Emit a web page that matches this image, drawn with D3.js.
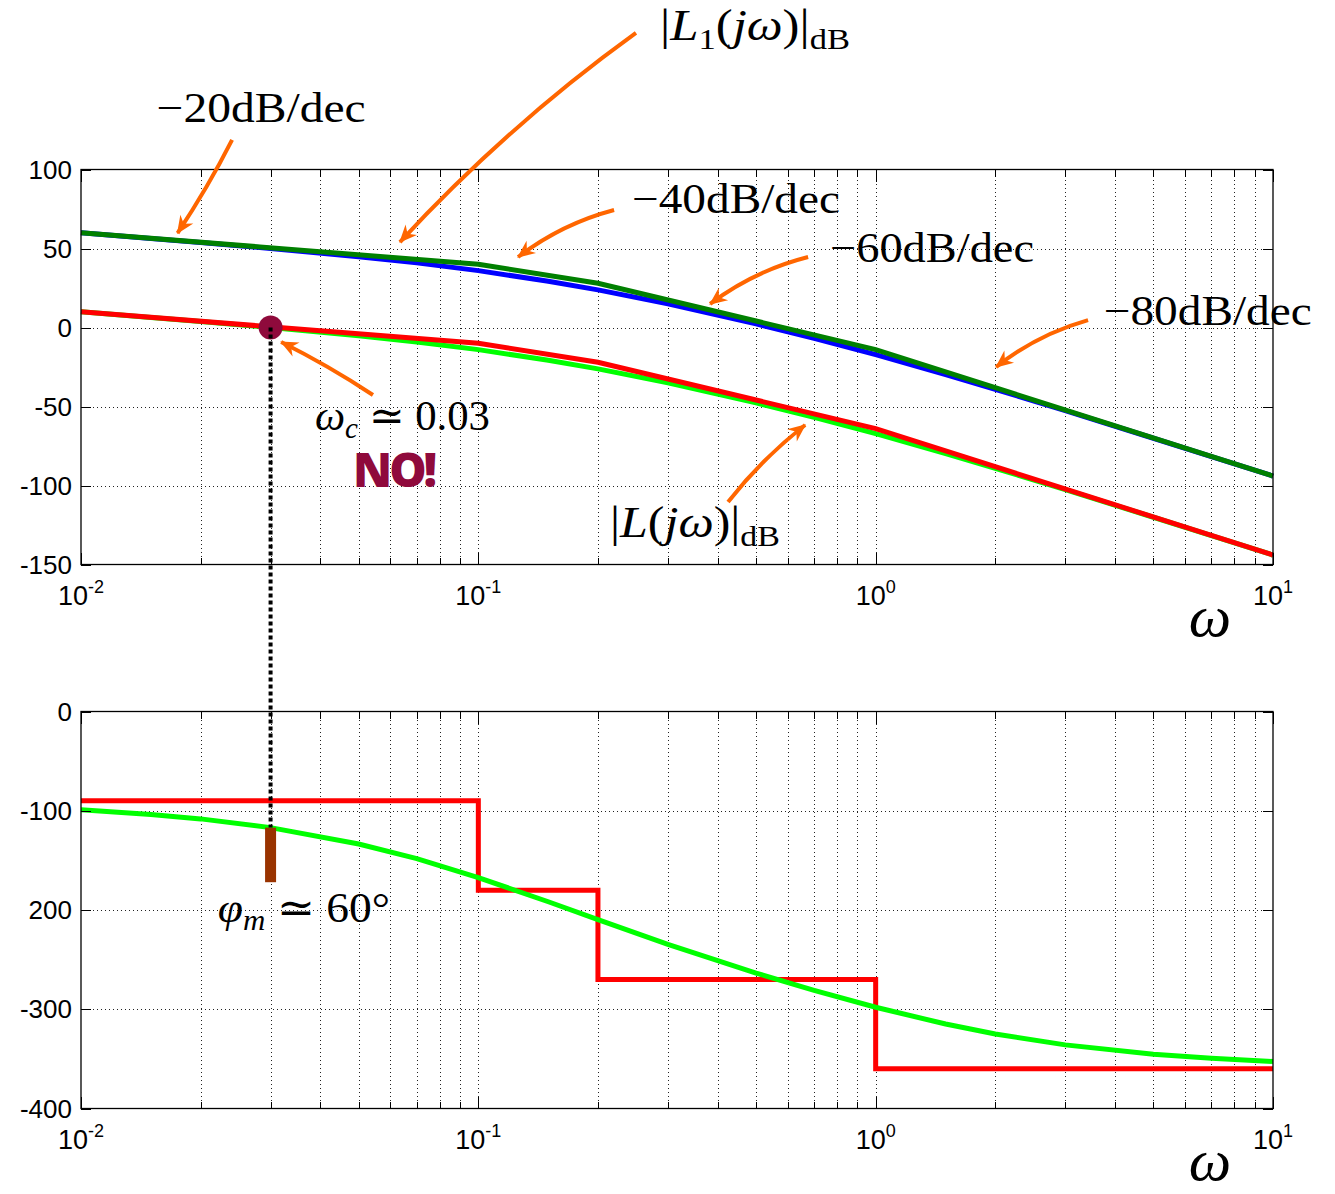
<!DOCTYPE html>
<html>
<head>
<meta charset="utf-8">
<script src="https://cdn.jsdelivr.net/npm/d3@7"></script>
<style>
    body { margin: 0; background: #fff; }
    svg { display: block; }
    .tick-label { font-family: "Liberation Sans", Arial, sans-serif; font-size: 26px; fill: #000; }
    .math { font-family: "Liberation Serif", "DejaVu Serif", serif; fill: #000; }
    .grid line { stroke: #222; stroke-width: 1; stroke-dasharray: 1,3; shape-rendering: crispEdges; }
    .grid path, .ticks path { display: none; }
    .ticks line { stroke: #000; stroke-width: 1; shape-rendering: crispEdges; }
</style>
</head>
<body>
<svg id="chart" width="1335" height="1194"></svg>
<script>

// frequencies (rad/s) the curves were read at
var omega = [0.01, 0.015, 0.02, 0.03, 0.05, 0.07, 0.1, 0.15, 0.2, 0.3, 0.5, 0.7, 1, 1.5, 2, 3, 5, 7, 10];

// |L1(jw)| in dB (blue) and |L(jw)| in dB (light green)
var magL1 = [60.0, 56.4, 53.8, 50.0, 44.8, 40.9, 36.0, 29.3, 23.8, 15.0, 2.3, -6.8, -17.2, -29.8, -39.1, -52.6, -70.1, -81.7, -94.0];
var magL  = [10.0, 6.4, 3.8, 0.0, -5.2, -9.2, -14.0, -20.7, -26.2, -35.0, -47.7, -56.8, -67.2, -79.8, -89.1, -102.6, -120.1, -131.7, -144.0];

// straight-line asymptotes (dark green, red)
var asymOmega = [0.01, 0.1, 0.2, 1, 10];
var asymL1 = [60, 40, 28, -14, -94];
var asymL  = [10, -10, -22, -64, -144];

// phase of L (light green) and its step approximation (red)
var phaseL = [-99.1, -103.7, -108.2, -117.0, -133.5, -148.3, -167.3, -191.7, -209.7, -234.6, -263.5, -280.9, -298.0, -314.9, -324.9, -335.9, -345.3, -349.4, -352.6];
var stepOmega = [0.01, 0.1, 0.2, 1, 10];
var stepPhase = [-90, -180, -270, -360, -360];

var magTicks = [100, 50, 0, -50, -100, -150];
var phaseTicks = [0, -100, -200, -300, -400];
var phaseTickLabels = ["0", "-100", "200", "-300", "-400"];
var decades = [0.01, 0.1, 1, 10];
var decadeExp = ["-2", "-1", "0", "1"];

// crossover point and phase margin bar
var wc = 0.03, wcMag = 0, wcPhase = -117, marginEnd = -172;

var svg = d3.select("#chart");
svg.append("rect").attr("width", 1335).attr("height", 1194).attr("fill", "#fff");

var left = 81, right = 1273;
var x = d3.scaleLog().domain([0.01, 10]).range([left, right]);
var yMag = d3.scaleLinear().domain([-150, 100]).range([564.5, 169.5]);
var yPh = d3.scaleLinear().domain([-400, 0]).range([1108.5, 711.5]);

var allX = [];
decades.slice(0, 3).forEach(function(d) {
    for (var k = 1; k < 10; k++) allX.push(d * k);
});
allX.push(10);
var minorX = allX.filter(function(v) { return decades.indexOf(v) < 0; });

function panel(y, ticks, labels) {
    var top = y.range()[1], bot = y.range()[0];
    var g = svg.append("g");

    // dotted grid
    g.append("g").attr("class", "grid").attr("transform", "translate(0," + bot + ")")
        .call(d3.axisBottom(x).tickValues(allX.slice(1, -1)).tickSize(-(bot - top)).tickFormat(""));
    g.append("g").attr("class", "grid").attr("transform", "translate(" + left + ",0)")
        .call(d3.axisLeft(y).tickValues(ticks.slice(1, -1)).tickSize(-(right - left)).tickFormat(""));

    return {g: g, top: top, bot: bot, ticks: ticks, labels: labels, y: y};
}

function frame(p) {
    var g = p.g;
    // inward ticks on all four sides
    [[d3.axisBottom, p.bot], [d3.axisTop, p.top]].forEach(function(a) {
        g.append("g").attr("class", "ticks").attr("transform", "translate(0," + a[1] + ")")
            .call(a[0](x).tickValues(decades).tickSize(-12).tickFormat(""));
        g.append("g").attr("class", "ticks").attr("transform", "translate(0," + a[1] + ")")
            .call(a[0](x).tickValues(minorX).tickSize(-7).tickFormat(""));
    });
    g.append("g").attr("class", "ticks").attr("transform", "translate(" + left + ",0)")
        .call(d3.axisLeft(p.y).tickValues(p.ticks).tickSize(-10).tickFormat(""));
    g.append("g").attr("class", "ticks").attr("transform", "translate(" + right + ",0)")
        .call(d3.axisRight(p.y).tickValues(p.ticks).tickSize(-10).tickFormat(""));

    g.append("rect").attr("x", left).attr("y", p.top)
        .attr("width", right - left).attr("height", p.bot - p.top)
        .attr("fill", "none").attr("stroke", "#000").attr("stroke-width", 1.3);

    // tick labels
    g.selectAll(".ylab").data(p.ticks).enter().append("text")
        .attr("class", "tick-label").attr("text-anchor", "end")
        .attr("x", left - 9).attr("y", function(d) { return p.y(d) + 9; })
        .text(function(d, i) { return p.labels[i]; });

    decades.forEach(function(d, i) {
        var t = g.append("text").attr("class", "tick-label").attr("text-anchor", "middle")
            .attr("x", x(d)).attr("y", p.bot + 40);
        t.append("tspan").style("font-size", "27px").text("10");
        t.append("tspan").attr("dy", -12).style("font-size", "18px").text(decadeExp[i]);
    });

    g.append("text").attr("class", "math").attr("text-anchor", "middle")
        .attr("x", 1210).attr("y", p.bot + 71)
        .style("font-size", "60px").style("font-style", "italic").text("ω");
}

function curve(g, xs, ys, y, color, width, stepped) {
    var line = d3.line()
        .x(function(d) { return x(d[0]); })
        .y(function(d) { return y(d[1]); })
        .curve(stepped ? d3.curveStepAfter : d3.curveLinear);
    g.append("path").datum(xs.map(function(v, i) { return [v, ys[i]]; }))
        .attr("d", line).attr("fill", "none").attr("stroke", color)
        .attr("stroke-width", width).attr("stroke-linejoin", "miter");
}

var mag = panel(yMag, magTicks, magTicks.map(String));
curve(mag.g, omega, magL1, yMag, "#0000ff", 5);
curve(mag.g, asymOmega, asymL1, yMag, "#008000", 5);
curve(mag.g, omega, magL, yMag, "#00ff00", 5);
curve(mag.g, asymOmega, asymL, yMag, "#ff0000", 5);
frame(mag);

var ph = panel(yPh, phaseTicks, phaseTickLabels);
curve(ph.g, stepOmega, stepPhase, yPh, "#ff0000", 5, true);
curve(ph.g, omega, phaseL, yPh, "#00ff00", 5);
frame(ph);

// crossover marker, drop line and phase margin
svg.append("circle").attr("cx", x(wc)).attr("cy", yMag(wcMag)).attr("r", 12).attr("fill", "#8f0a3c");
svg.append("rect").attr("x", x(wc) - 5.5).attr("y", yPh(wcPhase))
    .attr("width", 11).attr("height", yPh(marginEnd) - yPh(wcPhase)).attr("fill", "#993300");
svg.append("line").attr("x1", x(wc)).attr("x2", x(wc))
    .attr("y1", yMag(wcMag)).attr("y2", yPh(wcPhase))
    .attr("stroke", "#000").attr("stroke-width", 4).attr("stroke-dasharray", "4,3");

// annotations -------------------------------------------------------------
var orange = "#ff6600";
svg.append("defs").append("marker").attr("id", "head")
    .attr("markerUnits", "userSpaceOnUse").attr("orient", "auto")
    .attr("markerWidth", 20).attr("markerHeight", 20)
    .attr("viewBox", "-16 -8 18 16").attr("refX", 0).attr("refY", 0)
    .append("path").attr("d", "M1,0 L-15,-7 L-10,0 L-15,7 Z").attr("fill", orange);

function arrow(from, to, y, bend) {
    var x0 = x(from[0]), y0 = y(from[1]), x1 = x(to[0]), y1 = y(to[1]);
    var dx = x1 - x0, dy = y1 - y0;
    var cx = (x0 + x1) / 2 - bend * dy, cy = (y0 + y1) / 2 + bend * dx;
    svg.append("path").attr("d", "M" + x0 + "," + y0 + " Q" + cx + "," + cy + " " + x1 + "," + y1)
        .attr("fill", "none").attr("stroke", orange).attr("stroke-width", 4)
        .attr("marker-end", "url(#head)");
}

function mathText(at, y, parts, size, len) {
    var t = svg.append("text").attr("class", "math")
        .attr("x", x(at[0])).attr("y", y(at[1])).style("font-size", size + "px");
    var shift = 0;
    parts.forEach(function(p) {
        var st = p[1] || "";
        var sub = st.indexOf("s") >= 0;
        var want = sub ? size * 0.2 : 0;
        var s = t.append("tspan").attr("dy", want - shift).text(p[0]);
        shift = want;
        if (sub) s.style("font-size", (size * 0.68) + "px");
        if (st.indexOf("i") >= 0) s.style("font-style", "italic");
    });
    if (len) t.attr("textLength", len).attr("lengthAdjust", "spacingAndGlyphs");
}

mathText([0.0155, 130], yMag, [["−20dB/dec"]], 42, 209);
mathText([0.2437, 72.5], yMag, [["−40dB/dec"]], 42, 208);
mathText([0.7677, 41.5], yMag, [["−60dB/dec"]], 42, 204);
mathText([3.75, 1.6], yMag, [["−80dB/dec"]], 42, 208);
mathText([0.2866, 182], yMag, [["|"], ["L", "i"], ["1", "s"], ["("], ["j", "i"], ["ω", "i"], [")|"], ["dB", "s"]], 44, 190);
mathText([0.2145, -132.6], yMag, [["|"], ["L", "i"], ["("], ["j", "i"], ["ω", "i"], [")|"], ["dB", "s"]], 44, 170);
mathText([0.0388, -64.9], yMag, [["ω", "i"], ["c", "is"], [" ≃ 0.03"]], 42, 175);
mathText([0.0221, -212], yPh, [["φ", "i"], ["m", "is"], [" ≃ 60°"]], 42, 172);

svg.append("text").attr("x", x(0.0484)).attr("y", yMag(-100.9))
    .style("font-family", "'Open Sans', 'Liberation Sans', sans-serif")
    .style("font-weight", 800).style("font-size", "47px").attr("fill", "#8f0a3c")
    .attr("textLength", 84).text("NO!");

arrow([0.024, 118.7], [0.0175, 59.8], yMag, -0.03);
arrow([0.2493, 186.4], [0.0635, 54.1], yMag, 0.05);
arrow([0.2196, 74.4], [0.1259, 44.6], yMag, 0.1);
arrow([0.676, 44.6], [0.3831, 14.9], yMag, 0.1);
arrow([3.424, 4.7], [2.01, -25], yMag, 0.1);
arrow([0.0543, -42.7], [0.0319, -9.2], yMag, 0.03);
arrow([0.4251, -110.4], [0.6644, -61.7], yMag, -0.06);

</script>
</body>
</html>
